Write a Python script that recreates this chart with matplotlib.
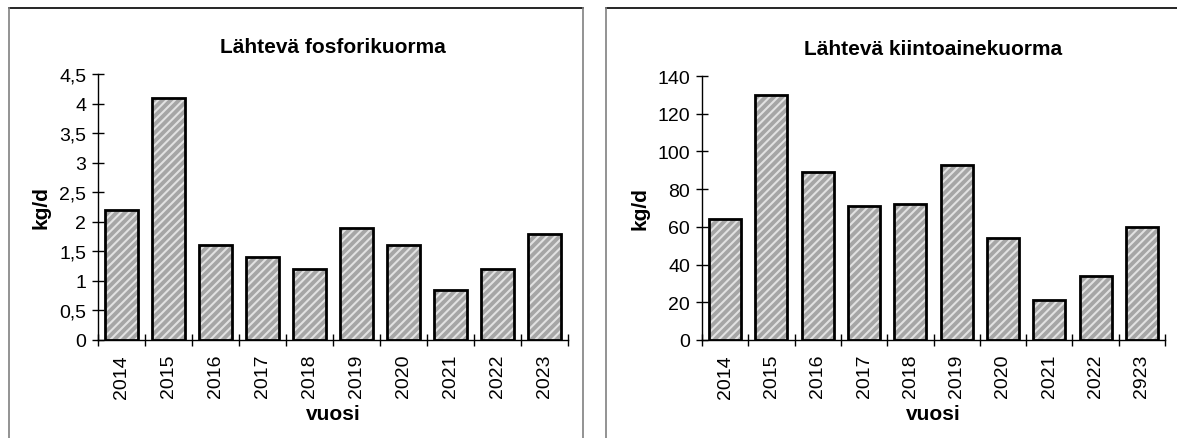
import numpy as np
import matplotlib.pyplot as plt
from matplotlib.lines import Line2D
from matplotlib.ticker import FuncFormatter, MultipleLocator

plt.rcParams['font.family'] = ['Liberation Sans', 'DejaVu Sans']
plt.rcParams['hatch.linewidth'] = 1.5

years_p = ['2014', '2015', '2016', '2017', '2018', '2019', '2020', '2021', '2022', '2023']
phosphorus = [2.2, 4.1, 1.6, 1.4, 1.2, 1.9, 1.6, 0.84, 1.2, 1.8]

years_s = ['2014', '2015', '2016', '2017', '2018', '2019', '2020', '2021', '2022', '2923']
solids = [64, 130, 89, 71, 72, 93, 54, 21, 34, 60]

W, H = 1177, 439
fig = plt.figure(figsize=(W / 100, H / 100), dpi=100)


def px_axes(x0, x1, ytop, ybot):
    return fig.add_axes([x0 / W, 1 - ybot / H, (x1 - x0) / W, (ybot - ytop) / H])


def comma(v, pos):
    return ('%g' % v).replace('.', ',')


def draw_panel(ax, labels, values, title, ymax, ystep):
    x = np.arange(len(values))
    # gray fill with light diagonal stripes, then a black outline on top
    ax.bar(x, values, width=0.69, color='#a6a6a6', edgecolor='#e2e2e2',
           hatch='////', linewidth=0, zorder=2)
    ax.bar(x, values, width=0.69, fill=False, edgecolor='black',
           linewidth=2.0, zorder=3)
    ax.set_xlim(-0.5, len(values) - 0.5)
    ax.set_ylim(0, ymax)
    ax.yaxis.set_major_locator(MultipleLocator(ystep))
    ax.yaxis.set_major_formatter(FuncFormatter(comma))
    ax.set_xticks(np.arange(len(values) + 1) - 0.5)
    ax.set_xticklabels([])
    ax.set_xticks(x, minor=True)
    ax.set_xticklabels(labels, minor=True, rotation=90)
    ax.tick_params(axis='x', which='minor', length=0, pad=10, labelsize=14)
    ax.tick_params(axis='x', which='major', direction='inout', length=8, width=1)
    ax.tick_params(axis='y', direction='inout', length=9, width=1, labelsize=14, pad=4)
    for s in ('top', 'right'):
        ax.spines[s].set_visible(False)
    for s in ('left', 'bottom'):
        ax.spines[s].set_linewidth(1.0)
    ax.set_title(title, fontsize=15, fontweight='bold', pad=16)
    ax.set_ylabel('kg/d', fontsize=15, fontweight='bold', labelpad=6)
    ax.set_xlabel('vuosi', fontsize=15, fontweight='bold', labelpad=5)


ax1 = px_axes(98, 568, 75, 341)
draw_panel(ax1, years_p, phosphorus, 'Lähtevä fosforikuorma', 4.5, 0.5)

ax2 = px_axes(702, 1165, 77, 341)
draw_panel(ax2, years_s, solids, 'Lähtevä kiintoainekuorma', 140, 20)


# frames around the two chart areas
def fline(xs, ys, color):
    fig.add_artist(Line2D([v / W for v in xs], [1 - v / H for v in ys],
                          color=color, linewidth=1.2))


fline([9, 583], [9, 9], 'black')
fline([9, 9], [9, H], '#808080')
fline([583, 583], [9, H], '#808080')
fline([606, W], [9, 9], 'black')
fline([606, 606], [9, H], '#808080')

fig.savefig('out.png', dpi=100, facecolor='white')
